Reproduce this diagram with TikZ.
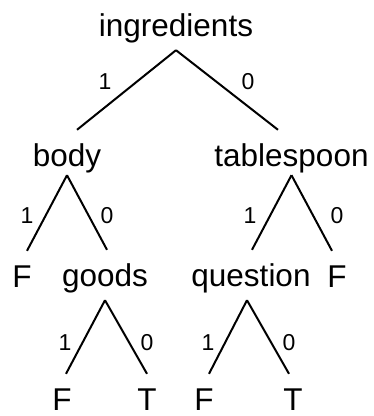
\documentclass[tikz,border=0pt]{standalone}
\usepackage{fontspec}
\setmainfont{Liberation Sans}
\usetikzlibrary{positioning}
\begin{document}
\begin{tikzpicture}[x=1pt,y=1pt,
  word/.style={font=\fontsize{31.5}{36}\selectfont, anchor=base, inner xsep=0pt, inner ysep=13pt, text height=23pt, text depth=1pt},
  bit/.style={font=\fontsize{23}{27}\selectfont, anchor=base, inner sep=0pt},
  branch/.style={line width=2pt}]
  \useasboundingbox (0,0) rectangle (374,-416);
  % words
  \node[word] (ingredients) at (176,-36)  {ingredients};
  \node[word] (body)        at (67,-166)  {body};
  \node[word] (tablespoon)  at (291.5,-166) {tablespoon};
  \node[word] (fBody)       at (22,-287)  {F};
  \node[word] (goods)       at (105,-286) {goods};
  \node[word] (question)    at (251,-286) {question};
  \node[word] (fSpoon)      at (337,-287) {F};
  \node[word] (fGoods)      at (62,-410)  {F};
  \node[word] (tGoods)      at (147,-410) {T};
  \node[word] (fQuestion)   at (204,-410) {F};
  \node[word] (tQuestion)   at (293,-410) {T};
  % branches
  \draw[branch] (ingredients.south) -- ([xshift=10pt]body.north);
  \draw[branch] (ingredients.south) -- ([xshift=-13.5pt]tablespoon.north);
  \draw[branch] ([yshift=5pt]body.south) -- ([xshift=5pt]fBody.north);
  \draw[branch] ([yshift=5pt]body.south) -- ([xshift=2pt]goods.north);
  \draw[branch] ([yshift=5pt]tablespoon.south) -- ([xshift=1pt]question.north);
  \draw[branch] ([yshift=5pt]tablespoon.south) -- ([xshift=-5pt]fSpoon.north);
  \draw[branch] (goods.south) -- ([xshift=4pt]fGoods.north);
  \draw[branch] (goods.south) -- (tGoods.north);
  \draw[branch] ([xshift=-4pt]question.south) -- ([xshift=5pt]fQuestion.north);
  \draw[branch] ([xshift=-4pt]question.south) -- ([xshift=-4pt]tQuestion.north);
  % bits
  \node[bit] (ingOne)   at (105,-89)  {1};
  \node[bit] (ingZero)  at (248,-89)  {0};
  \node[bit] (bodyOne)  at (27,-223)  {1};
  \node[bit] (bodyZero) at (107,-223) {0};
  \node[bit] (tabOne)   at (250,-223) {1};
  \node[bit] (tabZero)  at (337,-223) {0};
  \node[bit] (gdsOne)   at (65,-350)  {1};
  \node[bit] (gdsZero)  at (147,-350) {0};
  \node[bit] (qstOne)   at (208,-350) {1};
  \node[bit] (qstZero)  at (289,-350) {0};
\end{tikzpicture}
\end{document}
